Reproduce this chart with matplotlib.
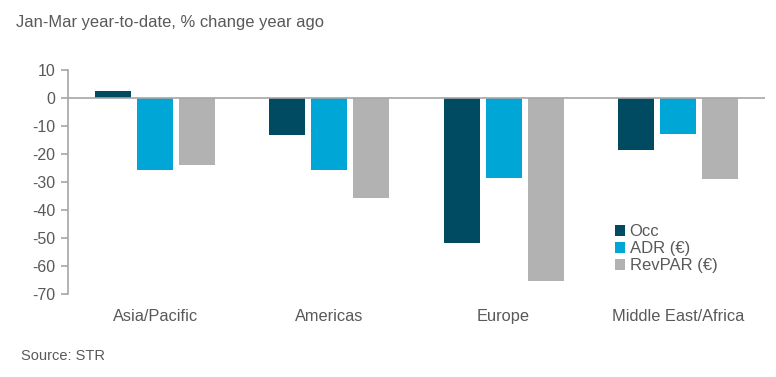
import matplotlib
matplotlib.use("Agg")
import matplotlib.pyplot as plt
import numpy as np

plt.rcParams['font.family'] = ['Liberation Sans', 'DejaVu Sans']

categories = ["Asia/Pacific", "Americas", "Europe", "Middle East/Africa"]
occ = [2.6, -13.3, -51.7, -18.6]
adr = [-25.6, -25.6, -28.5, -12.8]
revpar = [-23.8, -35.6, -65.4, -28.9]
series_names = ["Occ", "ADR (€)", "RevPAR (€)"]
colors = ["#004A62", "#00A6D6", "#B2B2B2"]
yticks = [10, 0, -10, -20, -30, -40, -50, -60, -70]

text_color = "#595959"
axis_color = "#A6A6A6"

fig = plt.figure(figsize=(7.76, 3.77), dpi=100)
ax = fig.add_axes([68/776, 1-294/377, (765-68)/776, (294-70)/377])

x = np.arange(len(categories))
width = 0.207
step = 0.241
for i, (vals, name, c) in enumerate(zip([occ, adr, revpar], series_names, colors)):
    ax.bar(x + (i-1)*step, vals, width=width, color=c, label=name, zorder=2)

ax.set_xlim(-0.5, 3.5)
ax.set_ylim(-70, 10)
ax.set_yticks(yticks)
ax.set_yticklabels([str(t) for t in yticks])
ax.axhline(0, color=axis_color, lw=1.2, zorder=3)

for s in ["top", "right", "bottom"]:
    ax.spines[s].set_visible(False)
ax.spines["left"].set_color(axis_color)
ax.spines["left"].set_linewidth(1.2)
ax.tick_params(axis='y', direction='out', length=5, width=1.2, color=axis_color,
               labelsize=11.5, labelcolor=text_color, pad=4)
ax.set_xticks(x)
ax.set_xticklabels(categories)
ax.tick_params(axis='x', length=0, labelsize=11.8, labelcolor=text_color, pad=11)

leg = ax.legend(loc="upper left", bbox_to_anchor=((615-68)/697, (294-224)/224),
                frameon=False, fontsize=12, handlelength=0.62, handleheight=0.62,
                handletextpad=0.25, labelspacing=0.12, borderaxespad=0, borderpad=0)
for t in leg.get_texts():
    t.set_color(text_color)

fig.text(16/776, 1-23/377, "Jan-Mar year-to-date, % change year ago", fontsize=11.9,
         color=text_color, va="center", ha="left")
fig.text(21/776, 1-356/377, "Source: STR", fontsize=10.5, color=text_color,
         va="center", ha="left")

fig.savefig("out.png", dpi=100)
